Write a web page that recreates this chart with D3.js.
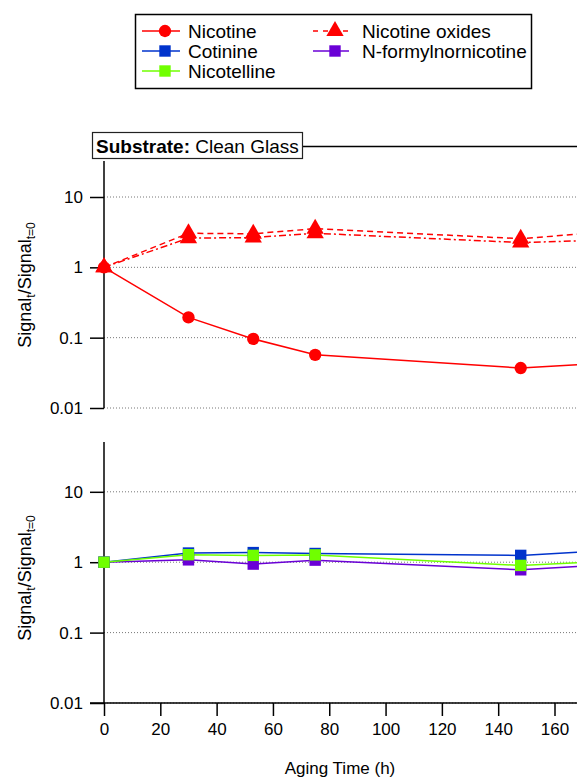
<!DOCTYPE html>
<html>
<head>
<meta charset="utf-8">
<script src="https://cdn.jsdelivr.net/npm/d3@7"></script>
<style>
  body { margin: 0; background: #fff; }
  svg { display: block; font-family: "Liberation Sans", Arial, sans-serif; }
</style>
</head>
<body>
<div id="chart"></div>
<script>
// aging times (h); the last point lies just past the visible edge
const hours = [0, 30, 53, 75, 148, 172];

const nicotine = [1, 0.194, 0.096, 0.057, 0.037, 0.042];
const nicotineOxideA = [1, 3.05, 3.0, 3.55, 2.55, 3.05];
const nicotineOxideB = [1, 2.6, 2.65, 3.05, 2.25, 2.4];
const cotinine = [1, 1.35, 1.37, 1.33, 1.25, 1.42];
const nicotelline = [1, 1.28, 1.25, 1.27, 0.9, 1.0];
const formylnornicotine = [1, 1.08, 0.94, 1.07, 0.78, 0.89];

const xTicks = [0, 20, 40, 60, 80, 100, 120, 140, 160];
const yTicks = [0.01, 0.1, 1, 10];
const yTickLabels = ["0.01", "0.1", "1", "10"];

const red = "#ff0000";
const blue = "#0033cc";
const green = "#70ff00";
const purple = "#6a00d6";

const width = 577;
const height = 778;

const svg = d3.select("#chart").append("svg")
  .attr("width", width)
  .attr("height", height);

const xScale = d3.scaleLinear().domain([0, 160]).range([104, 554.5]);

const panels = [
  {
    y: d3.scaleLog().domain([0.01, 32.5]).range([408, 161]),
    labelY: 285,
    series: [
      { values: nicotineOxideB, color: red, dash: "7,3,2,3", marker: "triangle" },
      { values: nicotineOxideA, color: red, dash: "6,4", marker: "triangle" },
      { values: nicotine, color: red, dash: null, marker: "circle" },
    ],
  },
  {
    y: d3.scaleLog().domain([0.01, 51]).range([703, 442]),
    labelY: 578,
    series: [
      { values: formylnornicotine, color: purple, dash: null, marker: "square" },
      { values: cotinine, color: blue, dash: null, marker: "square" },
      { values: nicotelline, color: green, dash: null, marker: "square" },
    ],
  },
];

function markerPath(type) {
  if (type === "circle") return d3.symbol(d3.symbolCircle, 120)();
  if (type === "square") return d3.symbol(d3.symbolSquare, 130)();
  return d3.symbol(d3.symbolTriangle, 130)();
}

// frame line and substrate label
svg.append("line")
  .attr("x1", 303).attr("x2", width)
  .attr("y1", 146.5).attr("y2", 146.5)
  .attr("stroke", "#000").attr("stroke-width", 1.5);

panels.forEach((p, i) => {
  const yScale = p.y;
  const g = svg.append("g");

  // dotted decade gridlines
  g.append("g").selectAll("line")
    .data(yTicks)
    .join("line")
    .attr("x1", 104).attr("x2", width)
    .attr("y1", (d) => yScale(d)).attr("y2", (d) => yScale(d))
    .attr("stroke", "#777")
    .attr("stroke-width", 1)
    .attr("stroke-dasharray", "1,2");

  const yAxis = d3.axisLeft(yScale)
    .tickValues(yTicks)
    .tickFormat((d, k) => yTickLabels[k])
    .tickSize(14)
    .tickPadding(7);

  const ax = g.append("g")
    .attr("transform", "translate(104,0)")
    .call(yAxis);
  ax.select(".domain").attr("stroke-width", 1.5).attr("d", `M0,${yScale.range()[1]}V${yScale.range()[0]}`);
  ax.selectAll(".tick line").attr("stroke-width", 1.5);
  ax.selectAll("text").attr("font-size", 17).attr("fill", "#000")
    .attr("font-family", "Liberation Sans, Arial, sans-serif");

  // y label with subscripts
  const lab = g.append("text")
    .attr("transform", `translate(31,${p.labelY}) rotate(-90)`)
    .attr("text-anchor", "middle")
    .attr("font-size", 18);
  lab.append("tspan").text("Signal");
  lab.append("tspan").attr("font-size", 12).attr("dy", 4).text("t");
  lab.append("tspan").attr("dy", -4).text("/Signal");
  lab.append("tspan").attr("font-size", 12).attr("dy", 4).text("t=0");

  const line = d3.line()
    .x((d, k) => xScale(hours[k]))
    .y((d) => yScale(d));

  p.series.forEach((s) => {
    g.append("path")
      .datum(s.values)
      .attr("fill", "none")
      .attr("stroke", s.color)
      .attr("stroke-width", 1.5)
      .attr("stroke-dasharray", s.dash)
      .attr("d", line);
  });

  p.series.forEach((s) => {
    g.append("g").selectAll("path")
      .data(s.values)
      .join("path")
      .attr("d", markerPath(s.marker))
      .attr("transform", (d, k) => `translate(${xScale(hours[k])},${yScale(d)})`)
      .attr("fill", s.color);
  });

  if (i === 1) {
    const xAxis = d3.axisBottom(xScale)
      .tickValues(xTicks)
      .tickFormat(d3.format("d"))
      .tickSize(13)
      .tickPadding(7);
    const xa = g.append("g")
      .attr("transform", `translate(0,${yScale.range()[0]})`)
      .call(xAxis);
    xa.select(".domain").attr("stroke-width", 1.5).attr("d", `M90,0H${width}`);
    xa.selectAll(".tick line").attr("stroke-width", 1.5);
    xa.selectAll("text").attr("font-size", 17).attr("fill", "#000")
      .attr("font-family", "Liberation Sans, Arial, sans-serif");
  }
});

// substrate box
svg.append("rect")
  .attr("x", 92.5).attr("y", 132.5)
  .attr("width", 210).attr("height", 26)
  .attr("fill", "#fff").attr("stroke", "#222").attr("stroke-width", 1.2);
const sub = svg.append("text").attr("x", 96).attr("y", 152.5).attr("font-size", 19);
sub.append("tspan").attr("font-weight", "bold").text("Substrate:");
sub.append("tspan").text(" Clean Glass");

svg.append("text")
  .attr("x", 340).attr("y", 774)
  .attr("text-anchor", "middle")
  .attr("font-size", 17)
  .text("Aging Time (h)");

// legend
const legendItems = [
  { name: "Nicotine", color: red, dash: null, marker: "circle", col: 0, row: 0 },
  { name: "Cotinine", color: blue, dash: null, marker: "square", col: 0, row: 1 },
  { name: "Nicotelline", color: green, dash: null, marker: "square", col: 0, row: 2 },
  { name: "Nicotine oxides", color: red, dash: "5,5", marker: "triangle", col: 1, row: 0 },
  { name: "N-formylnornicotine", color: purple, dash: null, marker: "square", col: 1, row: 1 },
];

svg.append("rect")
  .attr("x", 135.5).attr("y", 14.5)
  .attr("width", 396).attr("height", 74)
  .attr("fill", "#fff").attr("stroke", "#000").attr("stroke-width", 1.5);

const lg = svg.append("g").selectAll("g")
  .data(legendItems)
  .join("g")
  .attr("transform", (d) => `translate(${d.col === 0 ? 142 : 313},${31 + d.row * 20})`);

lg.append("line")
  .attr("x1", 0).attr("x2", (d) => (d.col === 0 ? 38 : 36))
  .attr("stroke", (d) => d.color)
  .attr("stroke-width", 1.5)
  .attr("stroke-dasharray", (d) => d.dash);
lg.append("path")
  .attr("d", (d) => markerPath(d.marker))
  .attr("transform", (d) => `translate(${d.col === 0 ? 23 : 22},0)`)
  .attr("fill", (d) => d.color);
lg.append("text")
  .attr("x", (d) => (d.col === 0 ? 46 : 49))
  .attr("y", 6.5)
  .attr("font-size", 19)
  .text((d) => d.name);
</script>
</body>
</html>
